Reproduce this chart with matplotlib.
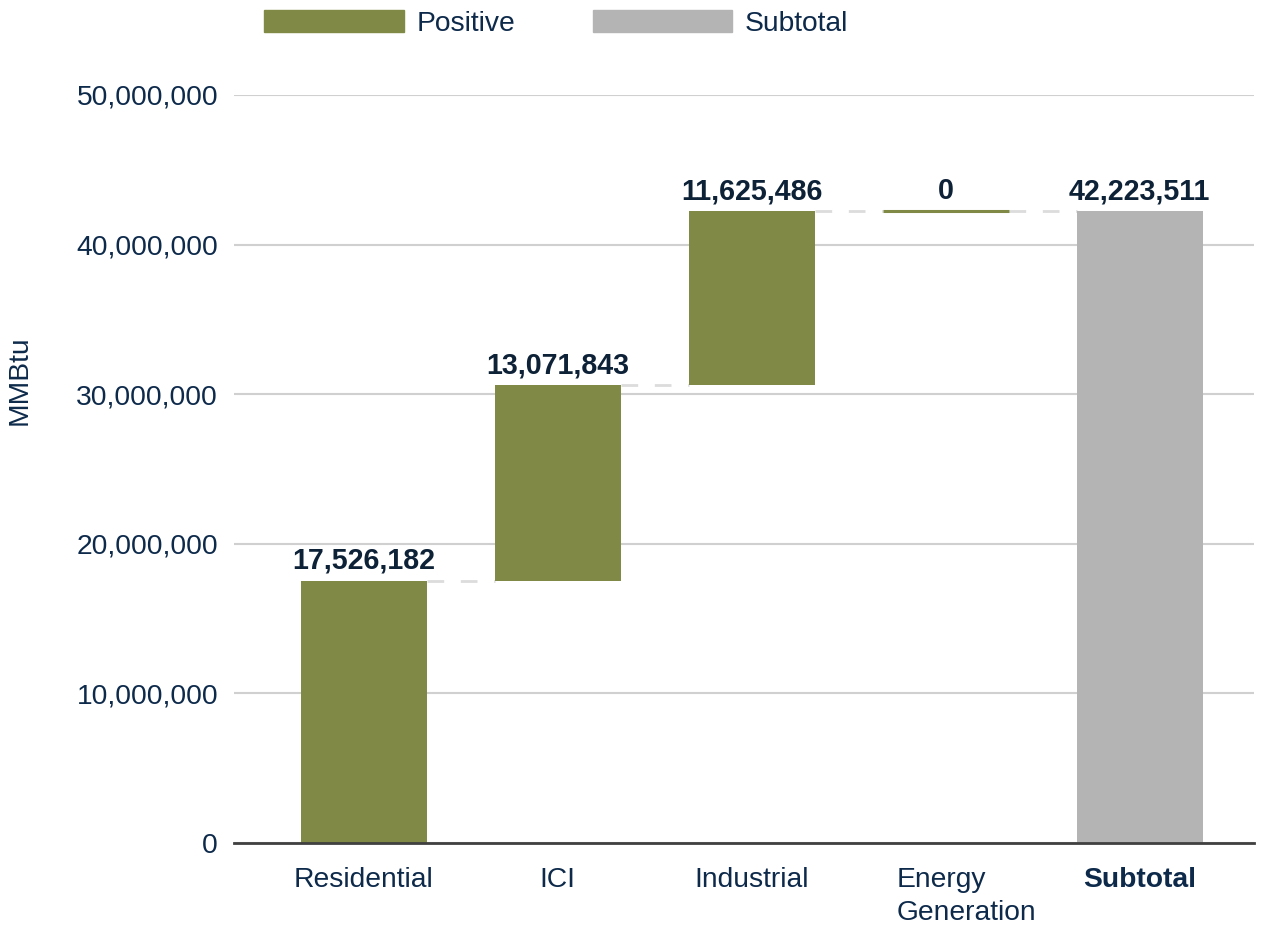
import numpy as np
import matplotlib.pyplot as plt
from matplotlib.patches import Patch
from matplotlib.ticker import FuncFormatter
import matplotlib.transforms as mtransforms

plt.rcParams['font.family'] = ['Liberation Sans', 'DejaVu Sans']

# data
categories = ['Residential', 'ICI', 'Industrial', 'Energy\nGeneration', 'Subtotal']
values = [17526182, 13071843, 11625486, 0]
subtotal = 42223511
yticks = [0, 10000000, 20000000, 30000000, 40000000, 50000000]

pos_color = '#808A46'
sub_color = '#B4B4B4'
text_color = '#0E2A4B'
label_color = '#0D2137'
fs = 20.3

fig = plt.figure(figsize=(12.67, 9.26), dpi=100)
ax = fig.add_axes([234/1267, 1 - 843/926, 1020/1267, 748/926])

x = np.arange(len(categories))
width = 0.65

# step bars
starts = np.concatenate([[0], np.cumsum(values)[:-1]])
ends = np.cumsum(values)
for i, (s, v) in enumerate(zip(starts, values)):
    if v == 0:
        ax.plot([i - width/2, i + width/2], [s, s], color=pos_color, lw=2.2, zorder=3,
                solid_capstyle='butt')
    else:
        ax.bar(i, v, bottom=s, width=width, color=pos_color, zorder=3)
    ax.text(i, ends[i] + 0.4e6, '{:,}'.format(v), ha='center', va='bottom',
            fontsize=20.6, fontweight='bold', color=label_color)

ax.bar(x[-1], subtotal, width=width, color=sub_color, zorder=3)
ax.text(x[-1], subtotal + 0.4e6, '{:,}'.format(subtotal), ha='center', va='bottom',
        fontsize=20.6, fontweight='bold', color=label_color)

# connectors
for i in range(len(values)):
    ax.plot([i + width/2, i + 1 - width/2], [ends[i], ends[i]], color='#DCDCDC',
            lw=2, dashes=(6, 6), zorder=2)

ax.set_xlim(-0.67, 4.59)
ax.set_ylim(0, 50000000)
ax.set_yticks(yticks)
ax.yaxis.set_major_formatter(FuncFormatter(lambda v, p: '{:,.0f}'.format(v)))
ax.set_xticks(x)
ax.set_xticklabels(categories)
ax.grid(axis='y', color='#D0D0D0', lw=1.5, zorder=0)
ax.set_axisbelow(True)

for sp in ['top', 'right', 'left']:
    ax.spines[sp].set_visible(False)
ax.spines['bottom'].set_color('#404040')
ax.spines['bottom'].set_linewidth(2)
ax.spines['bottom'].set_zorder(4)

ax.tick_params(axis='y', length=0, pad=11.5, labelsize=fs, labelcolor=text_color)
ax.tick_params(axis='x', length=0, pad=17.5, labelsize=fs, labelcolor=text_color)

xl = ax.get_xticklabels()
xl[-1].set_fontweight('bold')
xl[3].set_multialignment('left')
xl[3].set_linespacing(1.35)
xl[3].set_transform(xl[3].get_transform() +
                    mtransforms.ScaledTranslation(0.21, 0, fig.dpi_scale_trans))

ax.set_ylabel('MMBtu', fontsize=fs, color=text_color)
ax.yaxis.set_label_coords(-0.197, 0.619)

handles = [Patch(color=pos_color, label='Positive'), Patch(color=sub_color, label='Subtotal')]
fig.legend(handles=handles, loc='upper left', bbox_to_anchor=(264/1267, 1 - 10/926),
           ncol=2, frameon=False, fontsize=fs, handlelength=4.95, handleheight=0.82,
           handletextpad=0.45, columnspacing=2.75, borderpad=0, borderaxespad=0,
           labelcolor=text_color)

fig.savefig('out.png', dpi=100)
